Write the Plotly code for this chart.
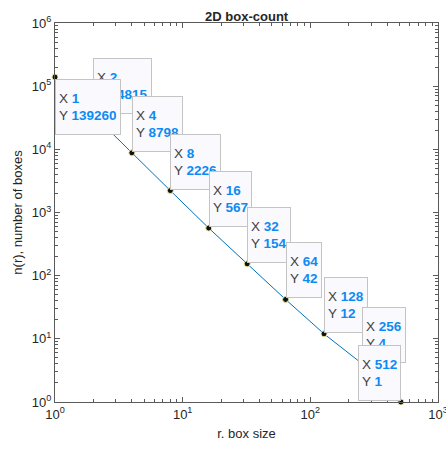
import numpy as np
import plotly.graph_objects as go

box_size = [1, 2, 4, 8, 16, 32, 64, 128, 256, 512]
n_boxes = [139260, 34815, 8798, 2226, 567, 154, 42, 12, 4, 1]
x_tickvals = [1, 10, 100, 1000]
x_ticktext = ["10<sup>0</sup>", "10<sup>1</sup>", "10<sup>2</sup>", "10<sup>3</sup>"]
y_tickvals = [1, 10, 100, 1000, 1e4, 1e5, 1e6]
y_ticktext = ["10<sup>%d</sup>" % k for k in range(7)]
x_minor = [m * 10 ** d for d in range(3) for m in range(2, 10)]
y_minor = [m * 10 ** d for d in range(6) for m in range(2, 10)]

AX = "#5a5a5a"
TXT = "#262626"
VAL = "#0d8bf2"
FONT = "Liberation Sans, Arial, sans-serif"

fig = go.Figure()
fig.add_trace(go.Scatter(
    x=box_size, y=n_boxes, mode="lines",
    line=dict(color="#0072BD", width=1),
    hoverinfo="skip", showlegend=False, cliponaxis=False,
))
fig.add_trace(go.Scatter(
    x=box_size, y=n_boxes, mode="markers",
    marker=dict(color="#111111", size=6, line=dict(color="#e8e8a0", width=1)),
    hoverinfo="skip", showlegend=False, cliponaxis=False,
))

# data tips; draw order: 2, 1, 4, 8, ... so that tip 1 sits above tip 2
order = [1, 0] + list(range(2, len(box_size)))
for i in order:
    xv, yv = box_size[i], n_boxes[i]
    if i == 0:
        xa, ya, ys = "left", "top", -2
    elif i == len(box_size) - 1:
        xa, ya, ys = "right", "bottom", 1
    else:
        xa, ya, ys = "left", "bottom", 1
    fig.add_annotation(
        x=np.log10(xv), y=np.log10(yv), xref="x", yref="y",
        text=("X <b><span style='color:%s'>%d</span></b><br>"
              "Y <b><span style='color:%s'>%d</span></b>") % (VAL, xv, VAL, yv),
        showarrow=False, xanchor=xa, yanchor=ya, yshift=ys, align="left",
        height=48, valign="middle",
        font=dict(family=FONT, size=13.5, color="#404040"),
        bgcolor="#f9f9fe", bordercolor="#c4c4c4", borderwidth=1, borderpad=3,
    )

def axis_common(minor_vals):
    return dict(
        type="log", showgrid=False, zeroline=False, automargin=False,
        showline=True, linecolor=AX, linewidth=1, mirror="allticks",
        ticks="inside", ticklen=5, tickcolor=AX, ticklabeloverflow="allow",
        minor=dict(ticks="inside", ticklen=3, tickcolor=AX, showgrid=False,
                   tickmode="array", tickvals=minor_vals),
        tickfont=dict(family=FONT, size=13, color=TXT),
    )

fig.update_xaxes(
    range=[0, 3], tickmode="array", tickvals=x_tickvals, ticktext=x_ticktext,
    title=dict(text="r. box size", font=dict(family=FONT, size=13, color=TXT), standoff=8),
    **axis_common(x_minor),
)
fig.update_yaxes(
    range=[0, 6], tickmode="array", tickvals=y_tickvals, ticktext=y_ticktext,
    title=dict(text="n(r), number of boxes", font=dict(family=FONT, size=13, color=TXT), standoff=6),
    **axis_common(y_minor),
)

fig.update_layout(
    width=446, height=456,
    margin=dict(l=55, r=8, t=23, b=54),
    paper_bgcolor="white", plot_bgcolor="white",
    title=dict(text="<b>2D box-count</b>", x=0.553, xanchor="center", y=0.965, yanchor="middle",
               font=dict(family=FONT, size=13, color=TXT)),
    font=dict(family=FONT, color=TXT),
)

fig.write_html("out.html", config={"displayModeBar": False},
               post_script="document.body.style.margin='0px';")
